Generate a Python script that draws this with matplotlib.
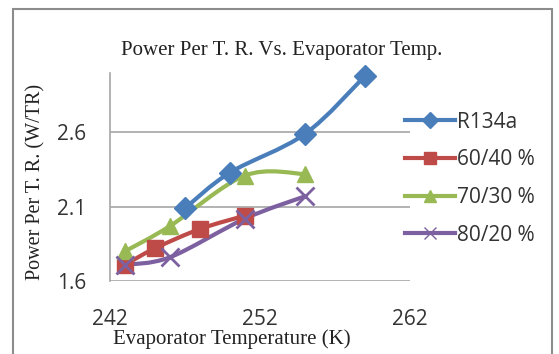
import matplotlib
matplotlib.use("Agg")
import matplotlib.pyplot as plt
import numpy as np
from matplotlib.path import Path
from matplotlib.patches import PathPatch, Rectangle
from matplotlib.lines import Line2D

# data
temp_r134a = [247, 250, 255, 259]
power_r134a = [2.09, 2.33, 2.59, 2.98]
temp_6040 = [243, 245, 248, 251]
power_6040 = [1.71, 1.82, 1.95, 2.04]
temp_7030 = [243, 246, 251, 255]
power_7030 = [1.80, 1.97, 2.31, 2.32]
temp_8020 = [243, 246, 251, 255]
power_8020 = [1.71, 1.76, 2.02, 2.17]

labels = ["R134a", "60/40 %", "70/30 %", "80/20 %"]
colors = ["#4A7EBB", "#BE4B48", "#98B954", "#7D60A0"]
markers = ["D", "s", "^", "x"]
msizes = [11, 12, 12, 13]

series = [(temp_r134a, power_r134a), (temp_6040, power_6040),
          (temp_7030, power_7030), (temp_8020, power_8020)]


def smooth_path(x, y):
    'Excel style smoothed line as a bezier path'
    p = np.column_stack([x, y]).astype(float)
    ext = np.vstack([p[0], p, p[-1]])
    verts = [p[0]]
    codes = [Path.MOVETO]
    for i in range(len(p) - 1):
        c1 = ext[i + 1] + (ext[i + 2] - ext[i]) / 6
        c2 = ext[i + 2] - (ext[i + 3] - ext[i + 1]) / 6
        verts += [c1, c2, ext[i + 2]]
        codes += [Path.CURVE4] * 3
    return Path(verts, codes)


fig = plt.figure(figsize=(5.59, 3.54), dpi=100)
fig.patches.append(Rectangle((12.5 / 559, -0.1), 539 / 559, 1.1 - 9.5 / 354,
                             transform=fig.transFigure, fill=False,
                             edgecolor="#8C8C8C", linewidth=1.5))

ax = fig.add_axes([110 / 559, 73 / 354, 300 / 559, 208 / 354])
ax.set_xlim(242, 262)
ax.set_ylim(1.6, 3.0)
ax.set_xticks([242, 252, 262])
ax.set_yticks([1.6, 2.1, 2.6])
ax.yaxis.grid(True, color="#A6A6A6", linewidth=1.2)
ax.set_axisbelow(True)
for side in ["top", "right", "bottom"]:
    ax.spines[side].set_visible(False)
ax.spines["left"].set_color("#A6A6A6")
ax.spines["left"].set_linewidth(1.2)
ax.tick_params(length=0, labelsize=15, labelcolor="#333333")
ax.tick_params(axis="x", pad=20)
ax.tick_params(axis="y", pad=17)
for lab in ax.get_xticklabels() + ax.get_yticklabels():
    lab.set_family("Open Sans")

handles = []
for (xs, ys), lab, c, m, ms in zip(series, labels, colors, markers, msizes):
    ax.add_patch(PathPatch(smooth_path(xs, ys), facecolor="none",
                           edgecolor=c, linewidth=3, zorder=2))
    ax.plot(xs, ys, linestyle="none", marker=m, markersize=ms, color=c,
            markeredgewidth=2 if m == "x" else 1, zorder=3, clip_on=False)
    handles.append(Line2D([], [], color=c, linewidth=3, marker=m,
                          markersize=ms * 0.7, markeredgewidth=1))

ax.set_title("Power Per T. R. Vs. Evaporator Temp.", family="Liberation Serif",
             fontsize=15, pad=13, color="#222222", x=0.572)
ax.set_xlabel("Evaporator Temperature (K)", family="Liberation Serif",
              fontsize=15, color="#222222")
ax.xaxis.set_label_coords(0.407, -0.232)
ax.set_ylabel("Power Per T. R. (W/TR)", family="Liberation Serif",
              fontsize=14.5, color="#222222")
ax.yaxis.set_label_coords(-0.216, 0.478)

fig.legend(handles, labels, loc="upper left", bbox_to_anchor=(386 / 559, 1 - 93 / 354),
           frameon=False, prop={"family": "Open Sans", "size": 15},
           handlelength=2.4, handletextpad=0.1, labelspacing=0.8,
           labelcolor="#333333")

fig.savefig("out.png", dpi=100)
